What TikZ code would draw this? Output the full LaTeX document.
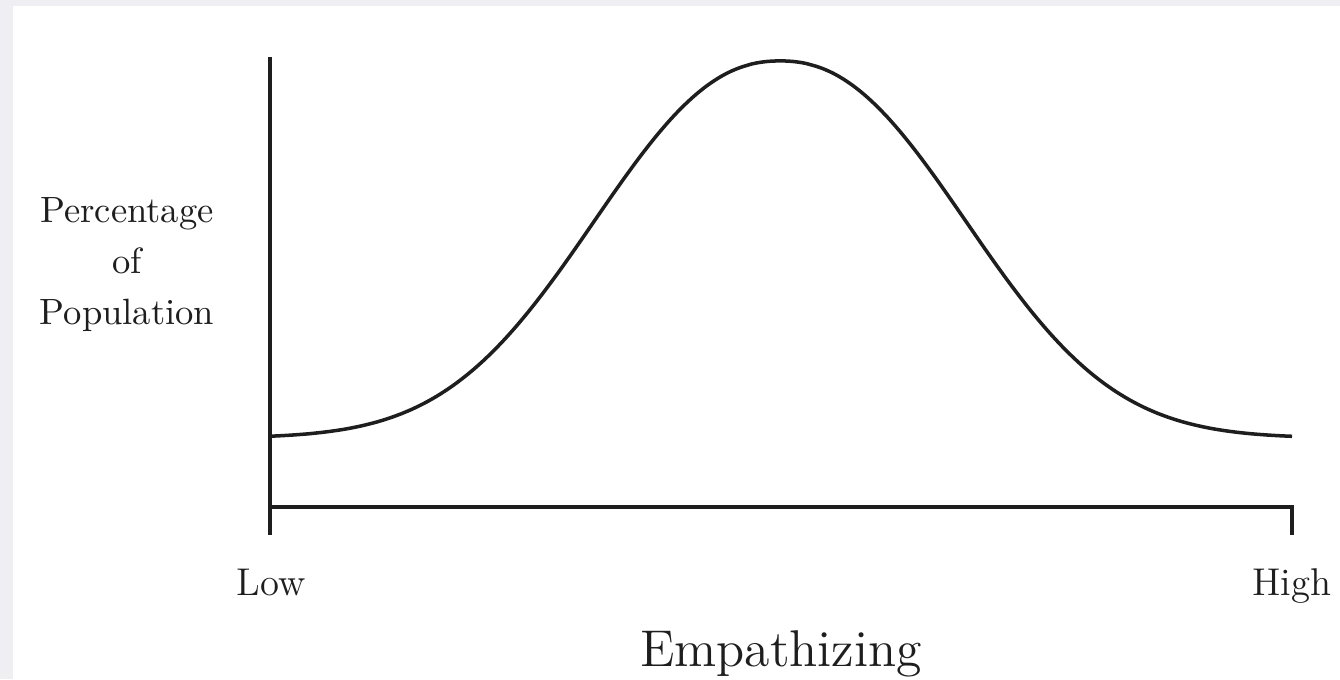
\documentclass[tikz,border=0pt]{standalone}
\usepackage{tikz}
\definecolor{pagegrey}{RGB}{239,238,243}
\definecolor{inkgrey}{RGB}{30,30,30}

\begin{document}
\begin{tikzpicture}[
  x=0.01cm, y=-0.01cm,
  axisline/.style={draw=inkgrey, line width=1.15pt},
  bellcurve/.style={draw=inkgrey, line width=1pt},
  ticktext/.style={inner sep=0pt, text=inkgrey, font=\fontsize{11}{13}\selectfont},
  titletext/.style={inner sep=0pt, text=inkgrey, font=\fontsize{14.7}{17}\selectfont}
]
\useasboundingbox (0,0) rectangle (1340,679);

% page and panel
\fill[pagegrey] (0,0) rectangle (1340,679);
\fill[white] (13,6) rectangle (1340,679);

% axes
\coordinate (ytop) at (270,57);
\coordinate (origin) at (270,507);
\coordinate (ybottom) at (270,535);
\coordinate (xend) at (1292,507);
\coordinate (tickend) at (1292,535);

\draw[axisline] (ytop) -- (ybottom);
\draw[axisline] (origin) -- (xend) -- (tickend);

% distribution
\draw[bellcurve] plot[domain=270:1292, samples=241, smooth]
  (\x, {438-377*exp(-exp(2.25*ln(abs(\x-780)/242+0.001)))});

% labels
\node[ticktext, align=center, font=\fontsize{10.4}{14.5}\selectfont] (ytitle) at (127,265) {Percentage\\of\\Population};
\node[ticktext, anchor=base] (low) at (271,595) {Low};
\node[ticktext, anchor=base] (high) at (1292,595) {High};
\node[titletext, anchor=base] (xtitle) at (781,666) {Empathizing};

\end{tikzpicture}
\end{document}
